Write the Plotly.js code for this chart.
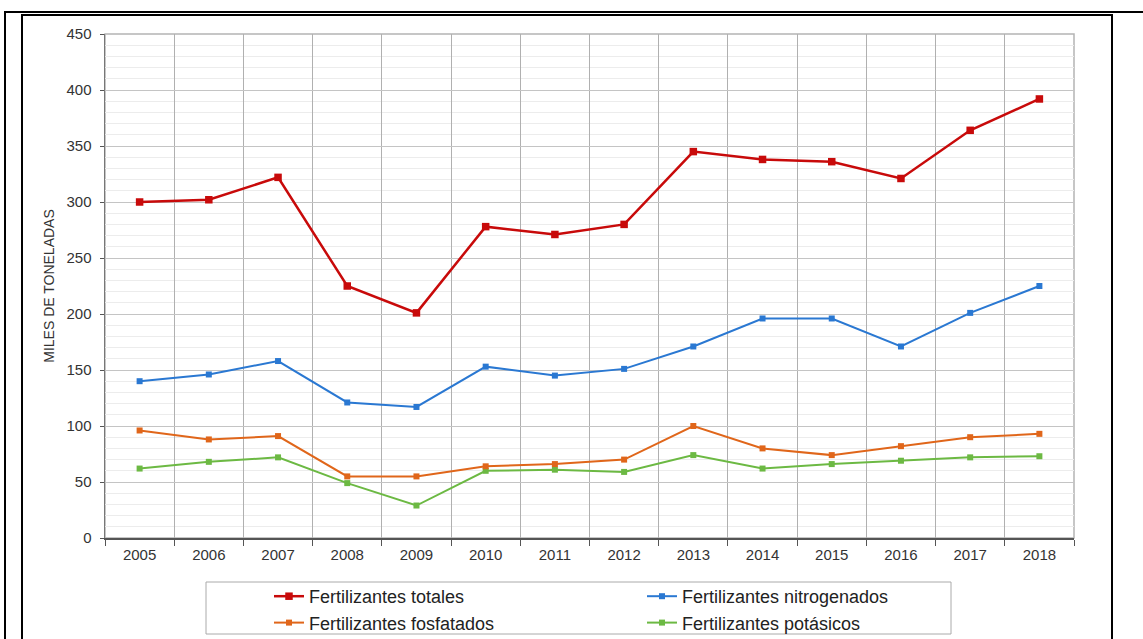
<!DOCTYPE html>
<html>
<head>
<meta charset="utf-8">
<script src="https://cdn.plot.ly/plotly-3.0.1.min.js"></script>
<style>
  html, body { margin: 0; padding: 0; background: #fff; }
  #wrap { position: relative; width: 1143px; height: 639px; overflow: hidden; }
  #chart { position: absolute; left: 0; top: 0; width: 1143px; height: 639px; }
  .ln { position: absolute; background: #000; }
</style>
</head>
<body>
<div id="wrap">
  <div class="ln" style="left:4px;top:11px;width:1139px;height:2px;"></div>
  <div class="ln" style="left:4px;top:11px;width:2px;height:628px;"></div>
  <div class="ln" style="left:21px;top:14px;width:1092px;height:1.5px;"></div>
  <div class="ln" style="left:21px;top:14px;width:1.5px;height:625px;"></div>
  <div class="ln" style="left:1111px;top:14px;width:2px;height:625px;"></div>
  <div id="chart"></div>
</div>
<script>
const years = ["2005","2006","2007","2008","2009","2010","2011","2012","2013","2014","2015","2016","2017","2018"];
const totales      = [300, 302, 322, 225, 201, 278, 271, 280, 345, 338, 336, 321, 364, 392];
const nitrogenados = [140, 146, 158, 121, 117, 153, 145, 151, 171, 196, 196, 171, 201, 225];
const fosfatados   = [96, 88, 91, 55, 55, 64, 66, 70, 100, 80, 74, 82, 90, 93];
const potasicos    = [62, 68, 72, 49, 29, 60, 61, 59, 74, 62, 66, 69, 72, 73];
const seriesNames = ["Fertilizantes totales", "Fertilizantes nitrogenados", "Fertilizantes fosfatados", "Fertilizantes potásicos"];
const yTitle = "MILES DE TONELADAS";

const W = 1143, H = 639;
const mL = 105, mR = 69, mT = 34, mB = 101;
const pw = W - mL - mR, ph = H - mT - mB;
const px2x = p => (p - mL) / pw;
const px2y = p => (H - mB - p) / ph;

function tr(y, name, color, lw, ms, legend, grp) {
  return {
    type: 'scatter', mode: 'lines+markers', x: years, y: y, name: name,
    line: { color: color, width: lw },
    marker: { symbol: 'square', size: ms, color: color },
    legend: legend, legendgroup: grp, cliponaxis: false
  };
}

const data = [
  tr(potasicos, seriesNames[3], '#6cb943', 2, 6, 'legend2', 'g4'),
  tr(fosfatados, seriesNames[2], '#e0661a', 2, 6, 'legend', 'g3'),
  tr(nitrogenados, seriesNames[1], '#2a78d2', 2, 6, 'legend2', 'g2'),
  tr(totales, seriesNames[0], '#c80a0a', 2.5, 7.5, 'legend', 'g1')
];

const legFont = { family: 'Liberation Sans, Arial, sans-serif', size: 18, color: '#222' };
const layout = {
  width: W, height: H,
  margin: { l: mL, r: mR, t: mT, b: mB, pad: 0, autoexpand: false },
  paper_bgcolor: 'rgba(0,0,0,0)',
  plot_bgcolor: '#fff',
  font: { family: 'Liberation Sans, Arial, sans-serif', color: '#333' },
  showlegend: true,
  xaxis: {
    type: 'category', range: [-0.5, 13.5], tickson: 'boundaries',
    showgrid: true, gridcolor: '#b0b0b0', gridwidth: 1,
    ticks: 'outside', ticklen: 6, tickcolor: '#555', tickwidth: 1,
    showline: true, linecolor: '#555', linewidth: 1.5,
    tickfont: { size: 15, color: '#333' }, ticklabelstandoff: 2,
    fixedrange: true, automargin: false
  },
  yaxis: {
    range: [0, 450], dtick: 50, tick0: 0,
    showgrid: true, gridcolor: '#c4c4c4', gridwidth: 1,
    minor: { dtick: 10, showgrid: true, gridcolor: '#ececec', gridwidth: 1 },
    ticks: 'outside', ticklen: 4, tickcolor: '#555',
    showline: true, linecolor: '#777', linewidth: 1.5,
    zeroline: false,
    tickfont: { size: 15, color: '#333' }, ticklabelstandoff: 5,
    title: { text: yTitle, font: { size: 14, color: '#333' }, standoff: 8 },
    fixedrange: true, automargin: false
  },
  legend: {
    x: px2x(269), y: px2y(578), xanchor: 'left', yanchor: 'top',
    orientation: 'v', bgcolor: 'rgba(0,0,0,0)', borderwidth: 0,
    font: legFont, tracegroupgap: 2, traceorder: 'reversed'
  },
  legend2: {
    x: px2x(642), y: px2y(578), xanchor: 'left', yanchor: 'top',
    orientation: 'v', bgcolor: 'rgba(0,0,0,0)', borderwidth: 0,
    font: legFont, tracegroupgap: 2, traceorder: 'reversed'
  },
  shapes: [
    { type: 'rect', xref: 'paper', yref: 'paper', x0: 0, x1: 1, y0: 0, y1: 1,
      line: { color: '#b4b4b4', width: 1.5 }, layer: 'below' },
    { type: 'rect', xref: 'paper', yref: 'paper',
      x0: px2x(206), x1: px2x(951), y0: px2y(634), y1: px2y(582),
      line: { color: '#aaaaaa', width: 1 } }
  ]
};

Plotly.newPlot('chart', data, layout, { displayModeBar: false, staticPlot: true });
</script>
</body>
</html>
